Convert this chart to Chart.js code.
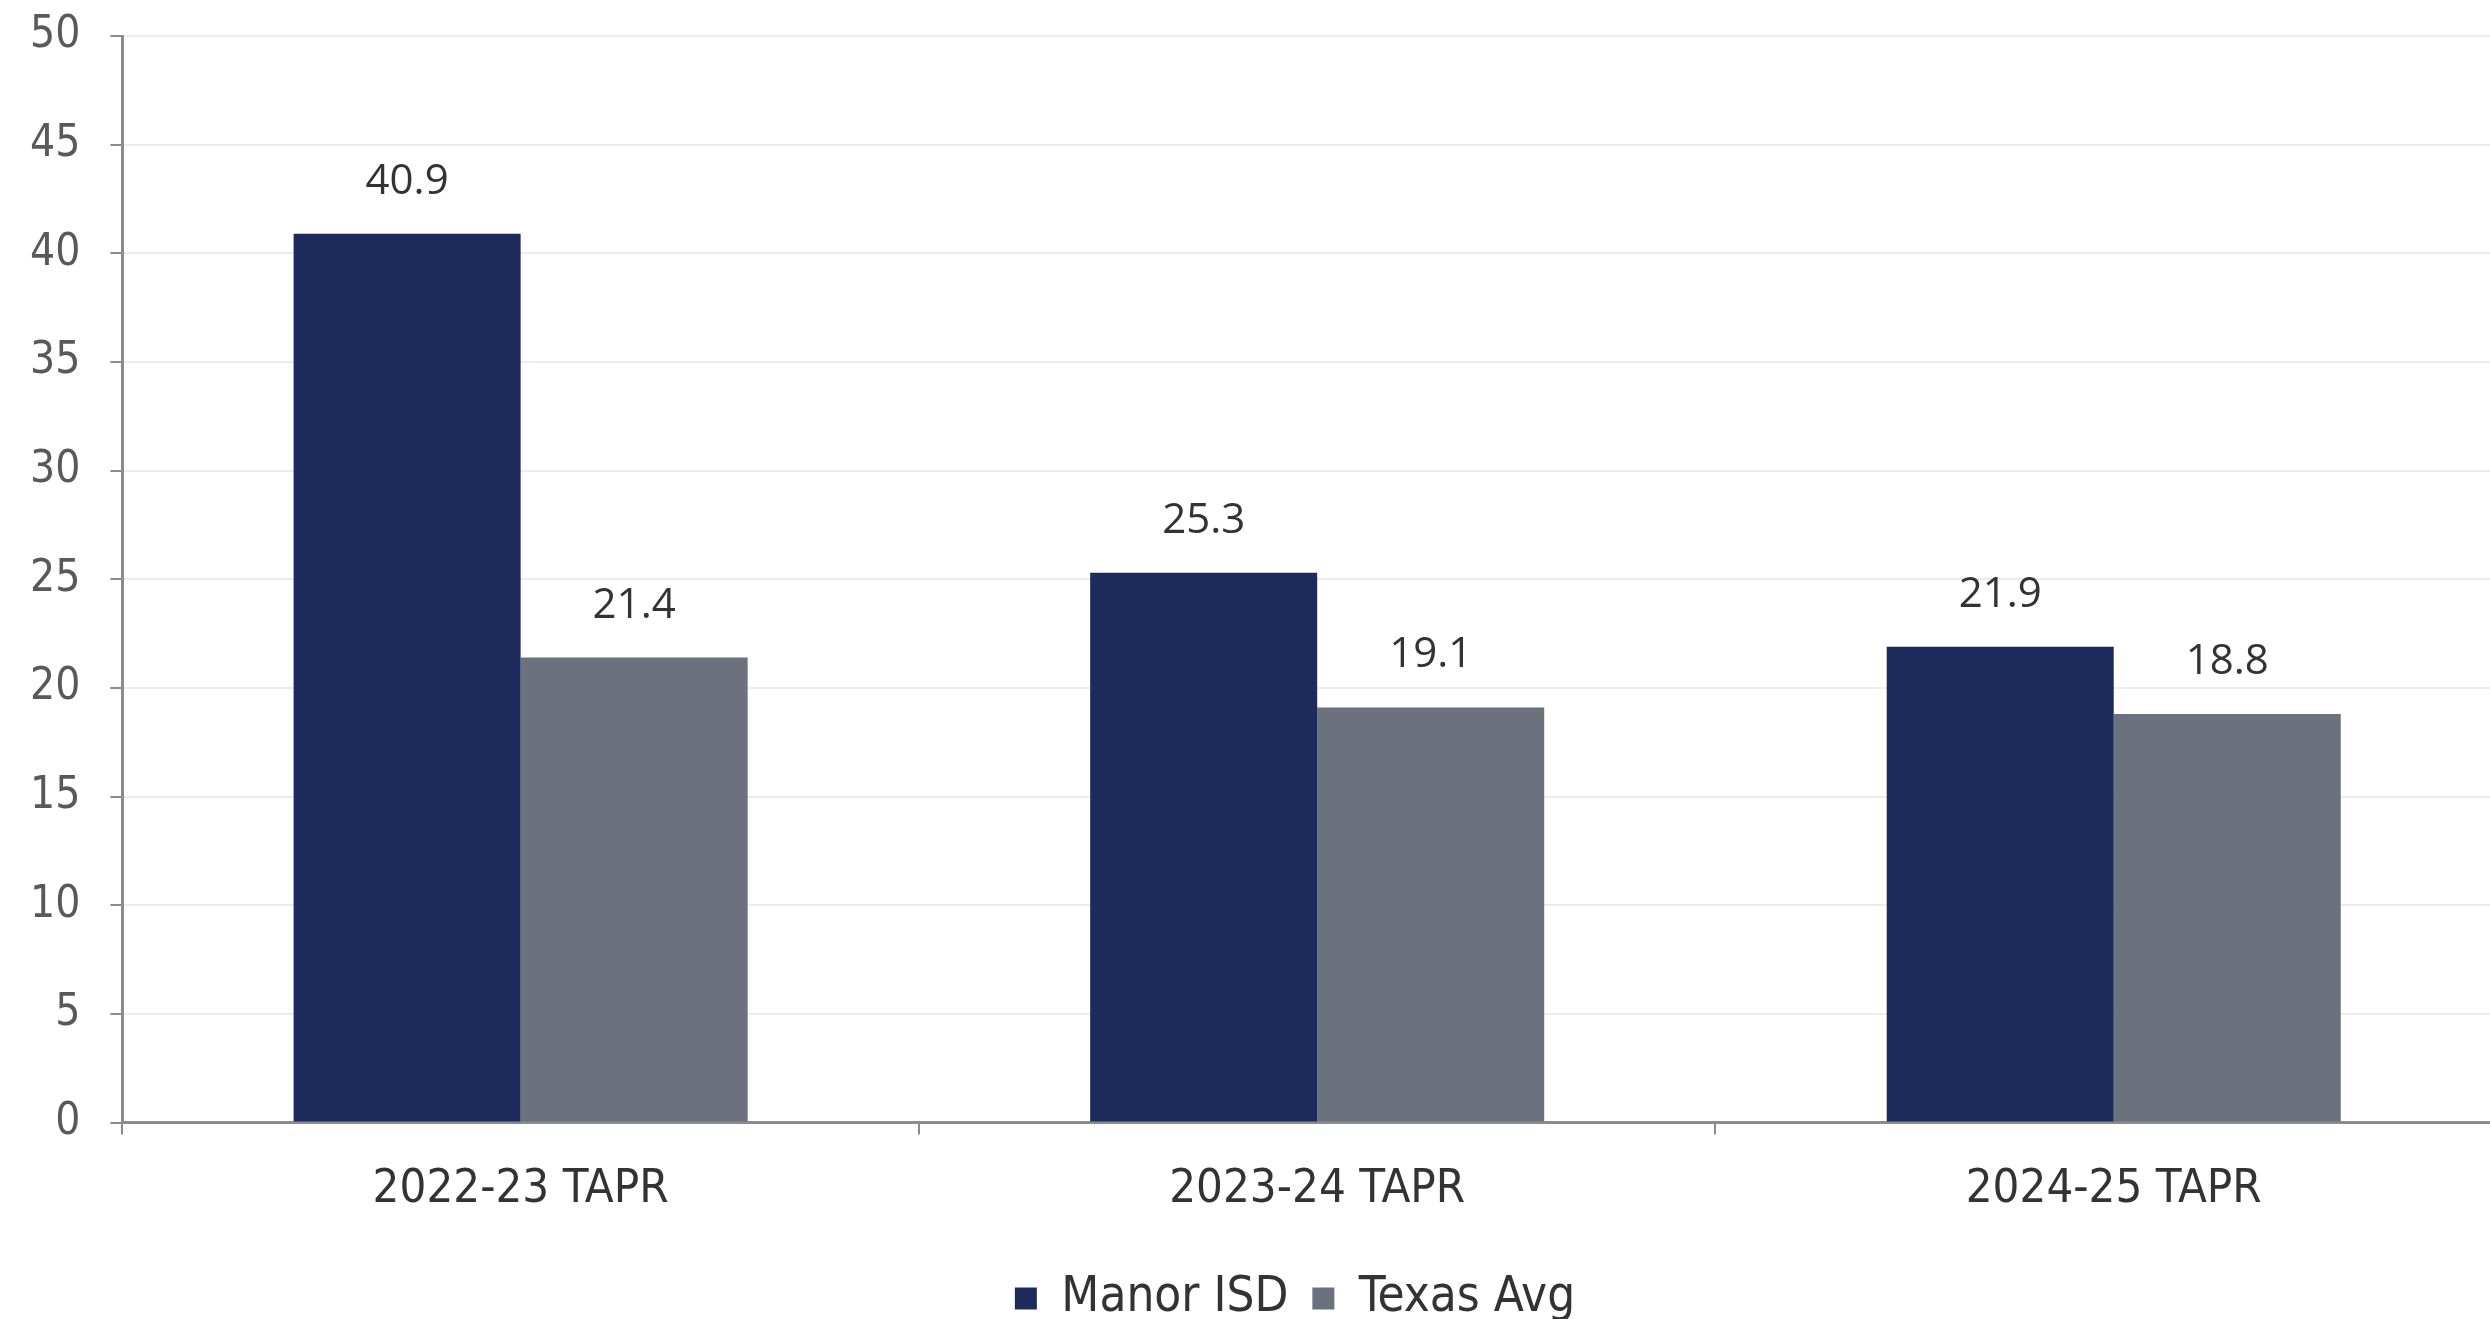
<!DOCTYPE html>
<html>
<head>
<meta charset="utf-8">
<script src="https://cdn.jsdelivr.net/npm/chart.js@4"></script>
<style>
html,body{margin:0;padding:0;background:#fff;overflow:hidden;}
#wrap{width:2490px;height:1319px;overflow:hidden;position:relative;}
canvas{position:absolute;left:0;top:0;}
</style>
</head>
<body>
<div id="wrap"><canvas id="c" width="2590" height="1319"></canvas></div>
<script>
const categories = ["2022-23 TAPR", "2023-24 TAPR", "2024-25 TAPR"];
const manorISD = [40.9, 25.3, 21.9];
const texasAvg = [21.4, 19.1, 18.8];
const seriesNames = ["Manor ISD", "Texas Avg"];
const yTicks = [0, 5, 10, 15, 20, 25, 30, 35, 40, 45, 50];

const valueLabels = {
  id: 'valueLabels',
  afterDatasetsDraw(chart) {
    const ctx = chart.ctx;
    ctx.save();
    ctx.font = '42px "Open Sans"';
    ctx.fillStyle = '#333333';
    ctx.textAlign = 'center';
    ctx.textBaseline = 'middle';
    chart.data.datasets.forEach((ds, i) => {
      const meta = chart.getDatasetMeta(i);
      meta.data.forEach((el, j) => {
        ctx.fillText(ds.data[j].toFixed(1), el.x, el.y - 52);
      });
    });
    ctx.restore();
  }
};

const legendShift = {
  id: 'legendShift',
  afterLayout(chart) {
    const l = chart.legend;
    if (l) { l.left += 39; l.right += 39; l.top += 5; l.bottom += 5; }
  }
};

new Chart(document.getElementById('c'), {
  type: 'bar',
  data: {
    labels: categories,
    datasets: [
      { label: seriesNames[0], data: manorISD, backgroundColor: '#1c2b5c', borderWidth: 0 },
      { label: seriesNames[1], data: texasAvg, backgroundColor: '#6b717d', borderWidth: 0 }
    ]
  },
  options: {
    responsive: false,
    animation: false,
    devicePixelRatio: 1,
    layout: { padding: { left: 0, right: 78, top: 36, bottom: -9 } },
    datasets: { bar: { barPercentage: 1.0, categoryPercentage: 0.57 } },
    plugins: {
      legend: {
        position: 'bottom',
        labels: {
          font: { family: '"DejaVu Sans Condensed", "DejaVu Sans"', size: 49 },
          color: '#333333',
          boxWidth: 22,
          boxHeight: 22,
          padding: 24
        }
      },
      tooltip: { enabled: false }
    },
    scales: {
      x: {
        grid: {
          display: true,
          drawOnChartArea: false,
          drawTicks: true,
          tickLength: 12,
          tickColor: '#8c8c8c',
          lineWidth: 2,
          offset: true
        },
        border: { display: true, color: '#8c8c8c', width: 3 },
        ticks: {
          font: { family: '"DejaVu Sans Condensed", "DejaVu Sans"', size: 47 },
          color: '#333333',
          padding: 27,
          maxRotation: 0
        }
      },
      y: {
        min: 0,
        max: 50,
        afterBuildTicks(axis) { axis.ticks = yTicks.map(v => ({ value: v })); },
        afterFit(scale) { scale.paddingTop = 0; },
        grid: {
          color: '#ececec',
          lineWidth: 2,
          drawTicks: true,
          tickLength: 12,
          tickColor: '#8c8c8c'
        },
        border: { display: true, color: '#8c8c8c', width: 3 },
        ticks: {
          font: { family: '"DejaVu Sans Condensed", "DejaVu Sans"', size: 44 },
          color: '#595959',
          padding: 30
        }
      }
    }
  },
  plugins: [valueLabels, legendShift]
});
</script>
</body>
</html>
